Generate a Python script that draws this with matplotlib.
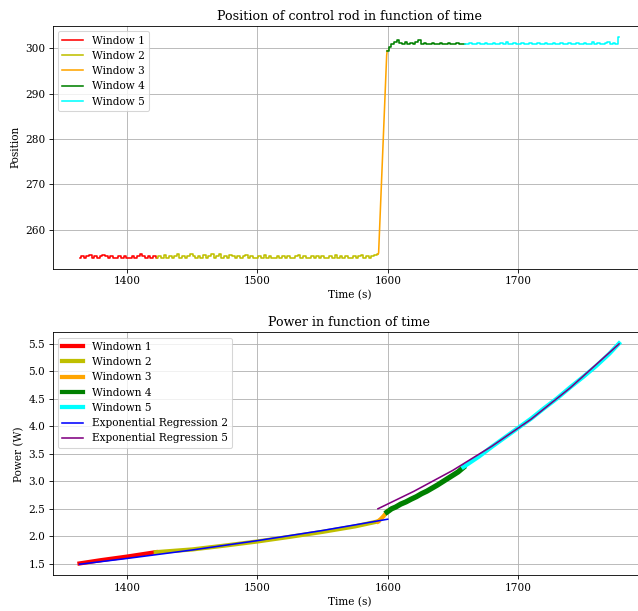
import matplotlib
matplotlib.use("Agg")
import matplotlib.pyplot as plt
import numpy as np

plt.rcParams['font.family'] = ['DejaVu Serif']

# ---- control rod position, one list per window ----
pos_w1_span = (1363.5, 1423.0)
pos_w1 = [253.8, 254.2, 253.8, 254.2, 254.5, 253.8, 254.2, 253.8, 254.2, 254.5,
          254.2, 253.8, 254.2, 253.8, 253.8, 254.2, 253.8, 254.2, 253.8, 253.8,
          254.2, 253.8, 254.2, 254.6, 254.2, 253.8, 254.2, 253.8, 254.2, 253.8]
pos_w2_span = (1423.0, 1592.5)
pos_w2 = [253.8, 254.2, 253.8, 254.5, 253.8, 254.2, 253.8, 254.2, 254.6, 253.8,
          254.2, 253.8, 254.2, 254.6, 254.2, 253.8, 254.2, 253.8, 254.5, 253.8,
          254.2, 254.6, 253.8, 254.2, 254.6, 253.8, 254.2, 253.8, 254.5, 254.2,
          253.8, 254.2, 253.8, 254.2, 254.5, 253.8, 254.2, 253.8, 253.8, 254.2,
          253.8, 254.5, 253.8, 254.2, 253.8, 253.8, 254.2, 253.8, 254.2, 253.8,
          254.2, 253.8, 253.8, 254.2, 254.5, 253.8, 254.2, 253.8, 253.8, 254.2,
          253.8, 254.2, 253.8, 254.2, 253.8, 253.8, 254.2, 253.8, 254.5, 253.8,
          254.2, 253.8, 254.2, 253.8, 253.8, 254.2, 253.8, 254.2, 254.5, 253.8,
          254.2, 253.8, 254.2, 254.5, 254.6]
pos_w3_t = [1592.5, 1593.0, 1599.2, 1599.6]
pos_w3 = [254.6, 254.8, 298.5, 299.5]
pos_w4_span = (1599.6, 1659.5)
pos_w4 = [299.5, 300.2, 301.0, 301.3, 301.8, 301.2, 301.0, 301.3, 301.0, 301.2,
          301.0, 301.3, 301.8, 301.0, 301.2, 301.0, 301.0, 301.2, 301.0, 301.0,
          301.2, 301.0, 301.0, 301.2, 301.0, 301.0, 301.2, 301.0, 301.0, 301.0]
pos_w5_span = (1659.5, 1777.5)
pos_w5 = [301.0, 301.0, 301.2, 301.0, 301.0, 301.2, 301.0, 301.0, 301.2, 301.0,
          301.0, 301.2, 301.0, 301.0, 301.2, 301.0, 301.5, 301.0, 301.0, 301.2,
          301.0, 301.0, 301.2, 301.0, 301.0, 301.2, 301.0, 301.0, 301.2, 301.0,
          301.0, 301.2, 301.0, 301.0, 301.2, 301.0, 301.0, 301.2, 301.0, 301.0,
          301.2, 301.0, 301.0, 301.2, 301.0, 301.0, 301.2, 301.0, 301.0, 301.3,
          301.0, 301.2, 301.0, 301.0, 301.2, 301.5, 301.0, 301.2, 301.0, 302.5]

# ---- reactor power (W) per window ----
pow_w1_t = [1363.5, 1380, 1400, 1422]
pow_w1 = [1.505, 1.565, 1.630, 1.710]
pow_w2_t = [1422, 1450, 1475, 1500, 1525, 1550, 1575, 1592.5]
pow_w2 = [1.710, 1.760, 1.830, 1.905, 1.990, 2.080, 2.180, 2.270]
pow_w3_t = [1592.5, 1595, 1597, 1599.5]
pow_w3 = [2.270, 2.320, 2.370, 2.450]
pow_w4_t = [1599.5, 1603, 1606, 1610, 1614, 1618, 1622, 1626, 1630, 1634, 1638,
            1642, 1646, 1650, 1654, 1658]
pow_w4 = [2.440, 2.500, 2.530, 2.585, 2.625, 2.675, 2.720, 2.775, 2.820, 2.875,
          2.930, 2.990, 3.050, 3.110, 3.170, 3.250]
pow_w5_t = [1658, 1670, 1680, 1690, 1700, 1710, 1720, 1730, 1740, 1750, 1760,
            1770, 1777.5]
pow_w5 = [3.260, 3.450, 3.630, 3.800, 3.970, 4.140, 4.330, 4.510, 4.710, 4.900,
          5.100, 5.320, 5.510]

# exponential regressions
reg2_t = [1363.5, 1400, 1450, 1500, 1550, 1600]
reg2 = [1.490, 1.596, 1.750, 1.920, 2.105, 2.310]
reg5_t = [1592.5, 1620, 1650, 1680, 1710, 1740, 1777.5]
reg5 = [2.500, 2.817, 3.200, 3.640, 4.130, 4.700, 5.500]

colors = ['red', 'y', 'orange', 'green', 'cyan']

DPI = 76
fig = plt.figure(figsize=(639 / DPI, 611 / DPI), dpi=DPI)
ax1 = fig.add_axes([0.0822, 0.5602, 0.9288, 0.3972])
ax2 = fig.add_axes([0.0822, 0.0584, 0.9288, 0.3977])

# top: position (sampled signal -> step look)
spans = [pos_w1_span, pos_w2_span, None, pos_w4_span, pos_w5_span]
values = [pos_w1, pos_w2, pos_w3, pos_w4, pos_w5]
for i, (span, vals) in enumerate(zip(spans, values)):
    if span is None:
        ax1.plot(pos_w3_t, vals, color=colors[i], label=f'Window {i + 1}')
    else:
        t = np.linspace(span[0], span[1], len(vals))
        ax1.plot(t, vals, color=colors[i], drawstyle='steps-mid',
                 label=f'Window {i + 1}')
ax1.set_title('Position of control rod in function of time')
ax1.set_xlabel('Time (s)')
ax1.set_ylabel('Position')
ax1.grid(True)
ax1.legend(loc='upper left')

# bottom: power
pow_t = [pow_w1_t, pow_w2_t, pow_w3_t, pow_w4_t, pow_w5_t]
pow_v = [pow_w1, pow_w2, pow_w3, pow_w4, pow_w5]
widths = [4, 4, 4, 5, 4]
for i, (t, v) in enumerate(zip(pow_t, pow_v)):
    line, = ax2.plot(t, v, color=colors[i], linewidth=widths[i])
    line.set_label(f'Windown {i + 1}')
ax2.plot(reg2_t, reg2, color='blue', label='Exponential Regression 2')
ax2.plot(reg5_t, reg5, color='purple', label='Exponential Regression 5')
ax2.set_title('Power in function of time')
ax2.set_xlabel('Time (s)')
ax2.set_ylabel('Power (W)')
ax2.grid(True)
leg = ax2.legend(loc='upper left')
for h in leg.get_lines()[:5]:
    h.set_linewidth(4)

fig.savefig('out.png', dpi=DPI)
